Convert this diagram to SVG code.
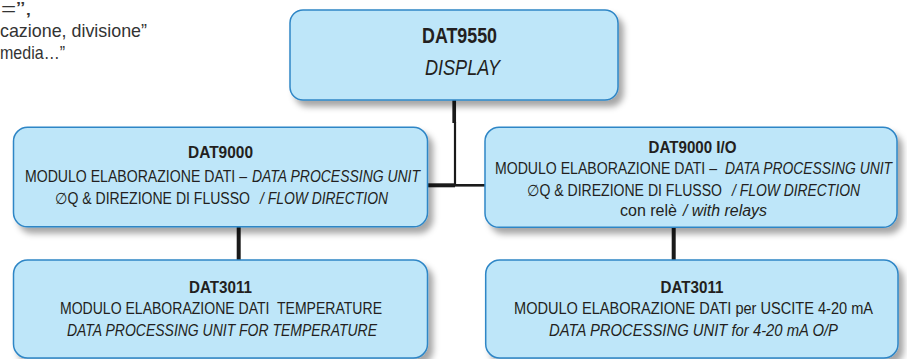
<svg xmlns="http://www.w3.org/2000/svg" width="907" height="359" viewBox="0 0 907 359">
  <style>
    text { font-family: "Liberation Sans", Arial, sans-serif; fill: #231f20; }
    .box { fill: #bee6f9; stroke: #2f86c6; stroke-width: 1.5; filter: url(#sh); }
    .t { font-size: 21.5px; text-anchor: middle; }
    .h { font-size: 17px; font-weight: bold; text-anchor: middle; }
    .l { font-size: 15.8px; }
    .m { text-anchor: middle; }
    .i { font-style: italic; }
    .note { font-size: 18.5px; fill: #333333; }
    .c { fill: none; stroke: #1a1a1a; }
  </style>
  <defs>
    <filter id="sh" x="-10%" y="-20%" width="125%" height="150%">
      <feDropShadow dx="5" dy="6" stdDeviation="3" flood-color="#000000" flood-opacity="0.35"/>
    </filter>
  </defs>
  <rect width="907" height="359" fill="#ffffff"/>

  <g id="note">
    <text class="note" x="1" y="15" textLength="31" lengthAdjust="spacingAndGlyphs">=”,</text>
    <text class="note" x="0" y="37" textLength="147" lengthAdjust="spacingAndGlyphs">cazione, divisione”</text>
    <text class="note" x="0" y="59" textLength="65" lengthAdjust="spacingAndGlyphs">media…”</text>
  </g>

  <g id="connectors">
    <path class="c" d="M454.2 100 V123" stroke-width="3.7"/>
    <path class="c" d="M455 122 V186" stroke-width="2.2"/>
    <path class="c" d="M427 185.3 H455" stroke-width="4"/>
    <path class="c" d="M455 185.3 H486" stroke-width="2.6"/>
    <path class="c" d="M238.7 226 V261" stroke-width="4"/>
    <path class="c" d="M673.7 226 V261" stroke-width="4"/>
  </g>

  <g id="dat9550">
    <rect class="box" x="290" y="10" width="328" height="90" rx="13"/>
    <text class="t" x="459.5" y="43.3" font-weight="bold" textLength="75" lengthAdjust="spacingAndGlyphs">DAT9550</text>
    <text class="t i" x="462.5" y="75" textLength="75" lengthAdjust="spacingAndGlyphs">DISPLAY</text>
  </g>

  <g id="dat9000">
    <rect class="box" x="13.5" y="127.3" width="414" height="99.5" rx="14"/>
    <text class="h" x="220.5" y="158.3" textLength="65" lengthAdjust="spacingAndGlyphs">DAT9000</text>
    <text class="l" x="25" y="182.3" textLength="222" lengthAdjust="spacingAndGlyphs">MODULO ELABORAZIONE DATI –</text>
    <text class="l i" x="252" y="182.3" textLength="168" lengthAdjust="spacingAndGlyphs">DATA PROCESSING UNIT</text>
    <text class="l" x="55" y="203.5" textLength="195" lengthAdjust="spacingAndGlyphs">∅Q &amp; DIREZIONE DI FLUSSO</text>
    <text class="l i" x="260" y="203.5" textLength="128" lengthAdjust="spacingAndGlyphs">/ FLOW DIRECTION</text>
  </g>

  <g id="dat9000io">
    <rect class="box" x="485" y="127.3" width="412" height="100" rx="14"/>
    <text class="h" x="692.5" y="153.3" textLength="88" lengthAdjust="spacingAndGlyphs">DAT9000 I/O</text>
    <text class="l" x="495" y="174" textLength="222" lengthAdjust="spacingAndGlyphs">MODULO ELABORAZIONE DATI –</text>
    <text class="l i" x="725" y="174" textLength="167" lengthAdjust="spacingAndGlyphs">DATA PROCESSING UNIT</text>
    <text class="l" x="527" y="195.5" textLength="195" lengthAdjust="spacingAndGlyphs">∅Q &amp; DIREZIONE DI FLUSSO</text>
    <text class="l i" x="732" y="195.5" textLength="128" lengthAdjust="spacingAndGlyphs">/ FLOW DIRECTION</text>
    <text class="l" x="620" y="215.7" textLength="57" lengthAdjust="spacingAndGlyphs">con relè</text>
    <text class="l i" x="683" y="215.7" textLength="84" lengthAdjust="spacingAndGlyphs">/ with relays</text>
  </g>

  <g id="dat3011a">
    <rect class="box" x="13.5" y="260" width="414" height="98" rx="14"/>
    <text class="h" x="220.5" y="292.7" textLength="63" lengthAdjust="spacingAndGlyphs">DAT3011</text>
    <text class="l m" x="221" y="314.3" textLength="322" lengthAdjust="spacingAndGlyphs" xml:space="preserve">MODULO ELABORAZIONE DATI  TEMPERATURE</text>
    <text class="l m i" x="222" y="336" textLength="310" lengthAdjust="spacingAndGlyphs">DATA PROCESSING UNIT FOR TEMPERATURE</text>
  </g>

  <g id="dat3011b">
    <rect class="box" x="485.7" y="260" width="412.3" height="98" rx="14"/>
    <text class="h" x="692" y="292.7" textLength="63" lengthAdjust="spacingAndGlyphs">DAT3011</text>
    <text class="l m" x="693.5" y="314" textLength="359" lengthAdjust="spacingAndGlyphs">MODULO ELABORAZIONE DATI per USCITE 4-20 mA</text>
    <text class="l m i" x="693.5" y="335.5" textLength="289" lengthAdjust="spacingAndGlyphs">DATA PROCESSING UNIT for 4-20 mA O/P</text>
  </g>
</svg>
